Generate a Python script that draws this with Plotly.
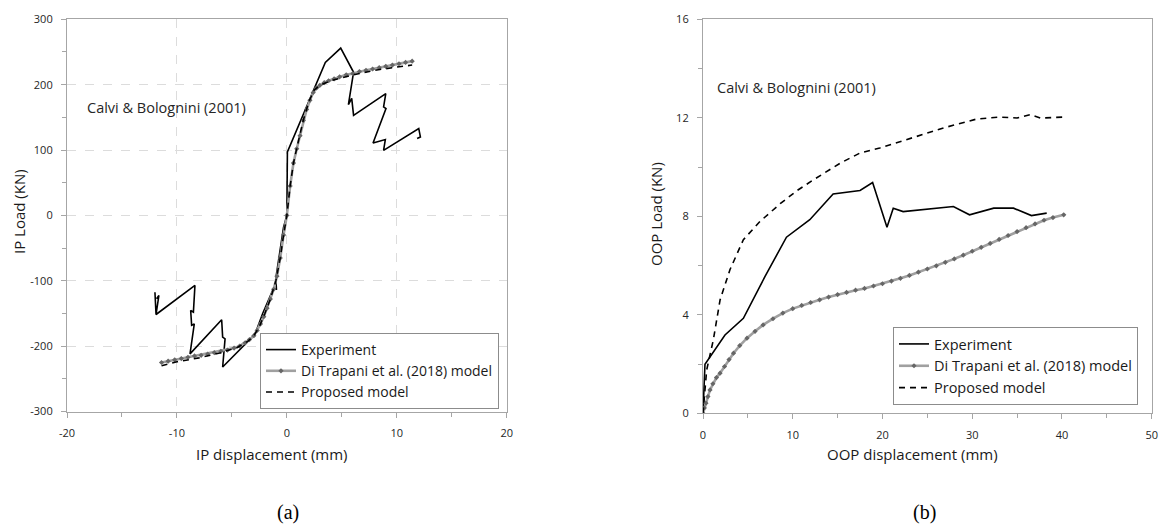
import plotly.graph_objects as go

# ---- (a) in-plane response ----
ip_exp_x = [-11.85, -11.64, -11.9, -12.0, -11.9, -8.36, -8.5, -8.75, -8.66, -8.42, -8.81,
            -5.93, -5.84, -5.62, -5.84, -2.9, -2.2, -1.25, -0.95, -1.0, -0.5, -0.3, 0.0,
            0.05, 3.5, 4.9, 6.07, 5.6, 5.9, 6.07, 9.0, 8.8, 9.02, 7.84, 8.96, 8.8,
            12.0, 12.15, 11.85]
ip_exp_y = [-127.6, -122.5, -151.6, -117.5, -151.6, -107, -148, -145.5, -168, -166, -211.8,
            -159.7, -186.2, -188.8, -232, -182, -150, -113, -113, -96, -45, -18, 0,
            97, 234, 256, 219, 169.5, 179, 153, 186.3, 166, 163.4, 110.7, 116, 99.5,
            132.7, 120, 117.5]

ip_dt_x = [-11.4, -10.8, -10.2, -9.6, -9.0, -8.4, -7.8, -7.2, -6.6, -6.0, -5.4, -4.8,
           -4.3, -3.8, -3.4, -3.0, -2.7, -2.4, -2.1, -1.8, -1.5, -1.2, -0.9, -0.6,
           -0.3, 0.0, 0.3, 0.6, 0.9, 1.2, 1.5, 1.8, 2.1, 2.4, 2.7, 3.0, 3.4, 3.8,
           4.3, 4.8, 5.4, 6.0, 6.6, 7.2, 7.8, 8.4, 9.0, 9.6, 10.2, 10.8, 11.4]
ip_dt_y = [-225, -223, -221, -219, -217, -215, -214, -212, -210, -208, -206, -203,
           -200, -195, -190, -184, -176, -166, -155, -142, -128, -113, -93, -65,
           -30, 0, 45, 80, 102, 122, 145, 162, 176, 188, 195, 199, 203, 206,
           209, 212, 215, 217, 220, 222, 224, 226, 228, 230, 232, 234, 236]

ip_pm_x = [-11.4, -10.0, -8.0, -6.0, -4.5, -3.5, -3.0, -2.5, -2.0, -1.5, -1.0, -0.6,
           -0.3, 0.0, 0.3, 0.6, 1.0, 1.5, 2.0, 2.5, 3.0, 4.0, 6.0, 8.0, 10.0, 11.4]
ip_pm_y = [-230, -224, -218, -210, -202, -192, -184, -170, -150, -128, -100, -65,
           -30, 0, 45, 80, 110, 146, 174, 192, 199, 206, 215, 222, 227, 230]

ip_x_ticks = [-20, -10, 0, 10, 20]
ip_x_labels = ["-20", "-10", "0", "10", "20"]
ip_y_ticks = [-300, -200, -100, 0, 100, 200, 300]
ip_y_labels = ["-300", "-200", "-100", "0", "100", "200", "300"]

# ---- (b) out-of-plane response ----
oop_exp_x = [0.0, 0.22, 2.45, 4.5, 6.9, 9.3, 11.9, 14.5, 17.5, 18.9, 20.5, 21.2, 22.3,
             27.9, 29.7, 32.4, 34.6, 36.6, 38.3]
oop_exp_y = [0.0, 1.99, 3.18, 3.86, 5.55, 7.15, 7.86, 8.91, 9.05, 9.37, 7.56, 8.33, 8.19,
             8.40, 8.06, 8.33, 8.33, 8.03, 8.13]

oop_dt_x = [0.0, 0.15, 0.33, 0.55, 0.78, 1.1, 1.5, 1.9, 2.4, 2.9, 3.4, 4.1, 4.9, 5.8,
            6.7, 7.8, 8.9, 10.0, 11.0, 12.0, 13.0, 14.0, 15.0, 16.0, 17.0, 18.0, 19.0,
            20.0, 21.0, 22.0, 23.0, 24.0, 25.0, 26.0, 27.0, 28.0, 29.0, 30.0, 31.0,
            32.0, 33.0, 34.0, 35.0, 36.0, 37.0, 38.0, 39.0, 40.2]
oop_dt_y = [0.0, 0.22, 0.41, 0.68, 0.95, 1.2, 1.45, 1.63, 1.9, 2.18, 2.44, 2.75, 3.05,
            3.33, 3.59, 3.84, 4.07, 4.25, 4.38, 4.5, 4.61, 4.72, 4.82, 4.91, 5.0, 5.07,
            5.17, 5.26, 5.37, 5.48, 5.6, 5.73, 5.86, 5.99, 6.13, 6.27, 6.42, 6.58,
            6.74, 6.9, 7.06, 7.22, 7.38, 7.54, 7.69, 7.84, 7.95, 8.06]

oop_pm_x = [0.0, 0.41, 1.15, 1.9, 3.0, 4.5, 6.35, 8.6, 10.5, 12.3, 15.3, 17.5, 19.7,
            21.2, 23.8, 26.8, 30.5, 33.1, 35.0, 36.5, 37.6, 40.2]
oop_pm_y = [0.0, 1.76, 2.98, 4.6, 5.83, 7.05, 7.79, 8.51, 9.05, 9.48, 10.16, 10.57, 10.77,
            10.95, 11.24, 11.59, 11.95, 12.03, 11.99, 12.13, 11.99, 12.03]

FONT = "Open Sans"
W, H = 1165, 532

def px(x):
    return x / W

def py(y):
    return 1 - y / H

exp_line = dict(color="black", width=1.6)
dt_line = dict(color="#a0a0a0", width=2.6)
dt_marker = dict(symbol="diamond", size=4, color="#666666")
pm_line = dict(color="black", width=1.6, dash="6px,5px")

fig = go.Figure()

# left panel traces
fig.add_trace(go.Scatter(x=ip_exp_x, y=ip_exp_y, mode="lines", line=exp_line,
                         name="Experiment", xaxis="x", yaxis="y", legend="legend"))
fig.add_trace(go.Scatter(x=ip_dt_x, y=ip_dt_y, mode="lines+markers", line=dt_line,
                         marker=dt_marker, name="Di Trapani et al. (2018) model",
                         xaxis="x", yaxis="y", legend="legend"))
fig.add_trace(go.Scatter(x=ip_pm_x, y=ip_pm_y, mode="lines", line=pm_line,
                         name="Proposed model", xaxis="x", yaxis="y", legend="legend"))

# right panel traces
fig.add_trace(go.Scatter(x=oop_exp_x, y=oop_exp_y, mode="lines", line=exp_line,
                         name="Experiment", xaxis="x2", yaxis="y2", legend="legend2"))
fig.add_trace(go.Scatter(x=oop_dt_x, y=oop_dt_y, mode="lines+markers", line=dt_line,
                         marker=dt_marker, name="Di Trapani et al. (2018) model",
                         xaxis="x2", yaxis="y2", legend="legend2"))
fig.add_trace(go.Scatter(x=oop_pm_x, y=oop_pm_y, mode="lines", line=pm_line,
                         name="Proposed model", xaxis="x2", yaxis="y2", legend="legend2"))

axis_common = dict(
    showline=True, linecolor="#a6a6a6", linewidth=1.2, mirror=True,
    ticks="outside", ticklen=5, tickcolor="#a6a6a6", tickwidth=1,
    tickfont=dict(family=FONT, size=11, color="#262626"),
    zeroline=False, ticklabelstandoff=6, automargin=False,
)

legend_common = dict(
    bgcolor="white", bordercolor="#8c8c8c", borderwidth=1,
    xanchor="left", yanchor="top", tracegroupgap=0,
    itemwidth=30,
)

fig.update_layout(
    template="none",
    width=W, height=H,
    margin=dict(l=0, r=0, t=0, b=0),
    paper_bgcolor="white", plot_bgcolor="white",
    showlegend=True,
    xaxis=dict(axis_common, domain=[px(67), px(506.7)], range=[-20, 20],
               tickmode="array", tickvals=ip_x_ticks, ticktext=ip_x_labels,
               anchor="y", showgrid=True, gridcolor="#dcdcdc",
               griddash="dash", gridwidth=1,
               minor=dict(dtick=5, tick0=0, ticks="outside", ticklen=4,
                          tickcolor="#a6a6a6", showgrid=False)),
    yaxis=dict(axis_common, domain=[py(411.5), py(19.3)], range=[-300, 300],
               tickmode="array", tickvals=ip_y_ticks, ticktext=ip_y_labels,
               anchor="x", showgrid=True, gridcolor="#dcdcdc",
               griddash="dash", gridwidth=1,
               minor=dict(dtick=50, tick0=0, ticks="outside", ticklen=4,
                          tickcolor="#a6a6a6", showgrid=False)),
    xaxis2=dict(axis_common, domain=[px(703), px(1151.7)], range=[0, 50], dtick=10,
                tick0=0, anchor="y2", showgrid=False,
                minor=dict(dtick=5, ticks="outside", ticklen=4, tickcolor="#a6a6a6",
                           showgrid=False)),
    yaxis2=dict(axis_common, domain=[py(413.3), py(19.3)], range=[0, 16], dtick=4,
                tick0=0, anchor="x2", showgrid=False,
                minor=dict(dtick=2, ticks="outside", ticklen=4, tickcolor="#a6a6a6",
                           showgrid=False)),
    legend=dict(legend_common, x=px(260), y=py(333),
                font=dict(family=FONT, size=14, color="#1a1a1a")),
    legend2=dict(legend_common, x=px(893), y=py(327),
                 font=dict(family=FONT, size=14.5, color="#1a1a1a")),
)

annots = [
    dict(text="Calvi & Bolognini (2001)", x=px(85), y=py(108), xanchor="left",
         yanchor="middle", font=dict(family=FONT, size=14.5, color="#262626")),
    dict(text="Calvi & Bolognini (2001)", x=px(715), y=py(87), xanchor="left",
         yanchor="middle", font=dict(family=FONT, size=14.5, color="#262626")),
    dict(text="IP Load (KN)", x=px(19), y=py(212), textangle=-90, xanchor="center",
         yanchor="middle", font=dict(family=FONT, size=15, color="#1a1a1a")),
    dict(text="OOP Load (KN)", x=px(656), y=py(214), textangle=-90, xanchor="center",
         yanchor="middle", font=dict(family=FONT, size=15, color="#1a1a1a")),
    dict(text="IP displacement (mm)", x=px(272), y=py(454), xanchor="center",
         yanchor="middle", font=dict(family=FONT, size=15, color="#1a1a1a")),
    dict(text="OOP displacement (mm)", x=px(912), y=py(454), xanchor="center",
         yanchor="middle", font=dict(family=FONT, size=15, color="#1a1a1a")),
    dict(text="(a)", x=px(288), y=py(512), xanchor="center", yanchor="middle",
         font=dict(family="Liberation Serif", size=20, color="black")),
    dict(text="(b)", x=px(925), y=py(512), xanchor="center", yanchor="middle",
         font=dict(family="Liberation Serif", size=20, color="black")),
]
for a in annots:
    a.update(xref="paper", yref="paper", showarrow=False)
fig.update_layout(annotations=annots)

fig.write_html("out.html")
